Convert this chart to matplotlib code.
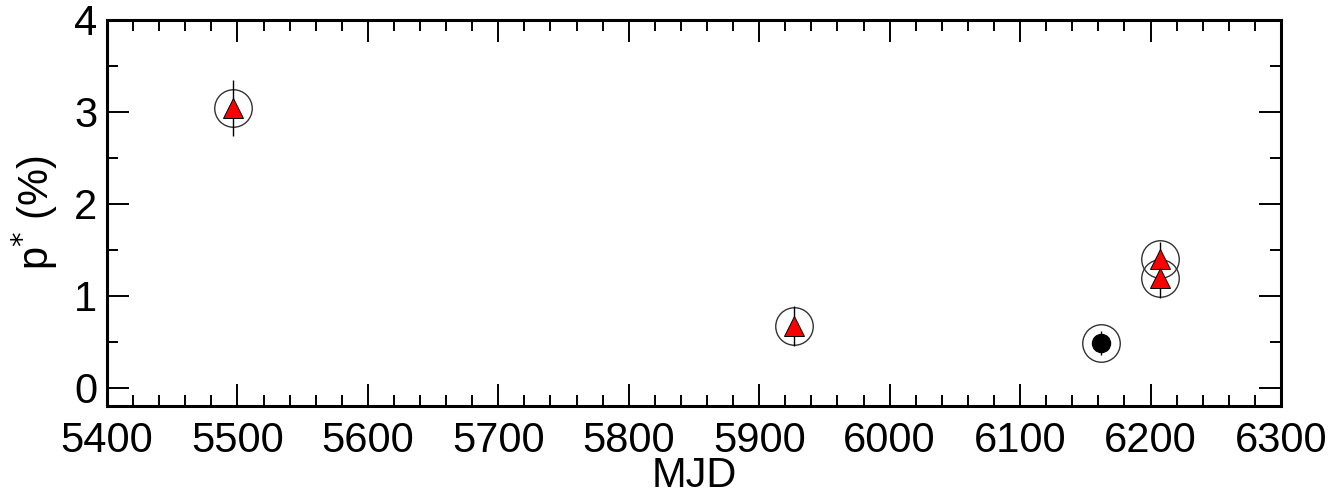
import matplotlib
matplotlib.use("Agg")
import matplotlib.pyplot as plt
from matplotlib.ticker import MultipleLocator

# observations (red triangles)
mjd_tri = [5496.5, 5927, 6207, 6207]
p_tri = [3.04, 0.67, 1.40, 1.19]
perr_tri = [0.30, 0.22, 0.18, 0.22]

# observation (black dot)
mjd_dot = [6162]
p_dot = [0.48]
perr_dot = [0.13]

plt.rcParams["font.family"] = ["Liberation Sans", "DejaVu Sans"]

fig = plt.figure(figsize=(13.44, 4.99), dpi=100)
ax = fig.add_axes([0.0796, 0.1864, 0.8735, 0.7741])

# open circles around every point
ax.plot(mjd_tri + mjd_dot, p_tri + p_dot, "o", ms=27, mfc="none",
        mec="#333333", mew=1.0, zorder=2)

ax.errorbar(mjd_tri, p_tri, yerr=perr_tri, fmt="none", ecolor="black",
            elinewidth=1.0, capsize=0, zorder=3)
ax.errorbar(mjd_dot, p_dot, yerr=perr_dot, fmt="none", ecolor="black",
            elinewidth=1.0, capsize=0, zorder=3)
ax.plot(mjd_tri, p_tri, "^", ms=15, mfc="red", mec="black", mew=0.7, zorder=4)
ax.plot(mjd_dot, p_dot, "o", ms=13, mfc="black", mec="black", zorder=4)

ax.set_xlim(5400, 6300)
ax.set_ylim(-0.2, 4)
ax.xaxis.set_major_locator(MultipleLocator(100))
ax.xaxis.set_minor_locator(MultipleLocator(20))
ax.yaxis.set_major_locator(MultipleLocator(1))
ax.yaxis.set_minor_locator(MultipleLocator(0.5))

ax.tick_params(which="both", direction="in", top=True, right=True,
               width=1.4, colors="black")
ax.tick_params(which="major", length=16, labelsize=30)
ax.tick_params(which="minor", length=8)
ax.tick_params(axis="x", which="major", pad=11)
ax.tick_params(axis="y", which="major", pad=7)
for s in ax.spines.values():
    s.set_linewidth(2.2)

ax.set_xlabel("MJD", fontsize=30, labelpad=-4)
ax.set_ylabel(r"p$^{*}$ (%)", fontsize=30, labelpad=10)

fig.savefig("out.png", dpi=100)
